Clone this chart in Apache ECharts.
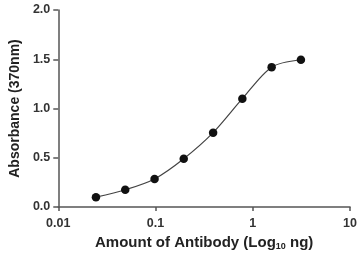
<!DOCTYPE html>
<html><head><meta charset="utf-8">
<script src="https://cdn.jsdelivr.net/npm/echarts@6/dist/echarts.min.js"></script>
<style>html,body{margin:0;padding:0;background:#fff}#c{width:360px;height:257px}</style>
</head><body><div id="c"></div>
<script>
const amounts = [0.0244, 0.0488, 0.0977, 0.195, 0.391, 0.781, 1.5625, 3.125];
const absorbance = [0.10, 0.175, 0.285, 0.49, 0.755, 1.10, 1.42, 1.495];
const xTicks = [0.01, 0.1, 1, 10];
const yTicks = ['0.0', '0.5', '1.0', '1.5', '2.0'];
const xTitle = 'Amount of Antibody (Log';
const yTitle = 'Absorbance (370nm)';

const chart = echarts.init(document.getElementById('c'));
const font = 'Liberation Sans, Arial, sans-serif';
chart.setOption({
  animation: false,
  grid: {left: 56, right: 8, top: 10, bottom: 50},
  xAxis: {
    type: 'log', logBase: 10, min: 0.01, max: 10,
    name: '{a|' + xTitle + '}{s|10}{a| ng)}',
    nameLocation: 'middle', nameGap: 28,
    nameTextStyle: {rich: {
      a: {fontFamily: font, fontWeight: 'bold', fontSize: 15, color: '#222'},
      s: {fontFamily: font, fontWeight: 'bold', fontSize: 9, color: '#222', padding: [7, 0, 0, 0]}
    }},
    axisLine: {lineStyle: {color: '#555', width: 1.5}},
    axisTick: {lineStyle: {color: '#555', width: 1.5}, length: 4},
    minorTick: {show: false},
    splitLine: {show: false},
    axisLabel: {fontFamily: font, fontWeight: 'bold', fontSize: 12.5, color: '#333', margin: 10,
      formatter: v => { const m = xTicks.find(t => Math.abs(t - v) / t < 1e-6); return m !== undefined ? String(m) : ''; }}
  },
  yAxis: {
    type: 'value', min: 0, max: 2, interval: 0.5,
    name: yTitle, nameLocation: 'middle', nameGap: 33,
    nameTextStyle: {fontFamily: font, fontWeight: 'bold', fontSize: 14, color: '#222'},
    axisLine: {show: true, lineStyle: {color: '#555', width: 1.5}},
    axisTick: {show: true, lineStyle: {color: '#555', width: 1.5}, length: 5},
    splitLine: {show: false},
    axisLabel: {fontFamily: font, fontWeight: 'bold', fontSize: 12.5, color: '#333', margin: 8,
      formatter: v => yTicks[Math.round(v / 0.5)]}
  },
  series: [{
    type: 'line',
    data: amounts.map((a, i) => [a, absorbance[i]]),
    smooth: 0.3,
    symbol: 'circle', symbolSize: 8.5,
    itemStyle: {color: '#111'},
    lineStyle: {color: '#444', width: 1.2}
  }]
});
</script></body></html>
